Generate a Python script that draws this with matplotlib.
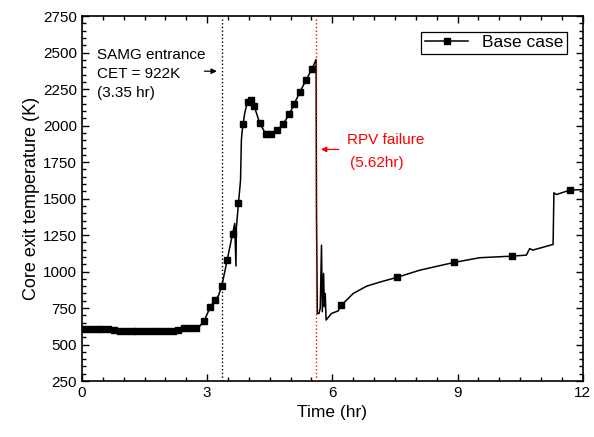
import numpy as np
import matplotlib
matplotlib.use('Agg')
import matplotlib.pyplot as plt
from matplotlib.ticker import MultipleLocator

plt.rcParams['font.family'] = ['Liberation Sans', 'DejaVu Sans']

# core exit temperature, base case
time_hr = [0.0, 0.07, 0.21, 0.35, 0.49, 0.63, 0.77, 0.91, 1.05, 1.19, 1.33,
           1.47, 1.61, 1.75, 1.89, 2.03, 2.17, 2.31, 2.45, 2.59, 2.73, 2.80,
           2.93, 3.07, 3.19, 3.27, 3.35, 3.48, 3.61, 3.66, 3.69, 3.70, 3.75,
           3.80, 3.82, 3.84, 3.86, 3.90, 3.95, 3.99, 4.05, 4.13, 4.26, 4.40,
           4.53, 4.68, 4.82, 4.97, 5.09, 5.22, 5.37, 5.51, 5.61, 5.62, 5.64,
           5.68, 5.71, 5.74, 5.76, 5.79, 5.81, 5.83, 5.85, 5.98, 6.14, 6.21,
           6.50, 6.82, 7.14, 7.54, 8.10, 8.92, 9.53, 10.31, 10.65, 10.73,
           10.80, 11.29, 11.31, 11.37, 11.69, 12.0]
temp_k = [606, 606, 606, 605, 605, 604, 603, 596, 593, 593, 592,
          592, 591, 591, 591, 591, 592, 600, 612, 616, 616, 618,
          663, 755, 805, 835, 900, 1079, 1261, 1330, 1038, 1300, 1467,
          1627, 1900, 1965, 2008, 2085, 2145, 2163, 2175, 2133, 2015, 1946,
          1946, 1969, 2010, 2079, 2151, 2229, 2312, 2387, 2453, 1400, 713,
          713, 750, 1181, 725, 987, 759, 850, 668, 713, 731, 768,
          850, 900, 928, 960, 1010, 1063, 1095, 1106, 1113, 1158,
          1147, 1186, 1540, 1528, 1558, 1562]
marker_times = [0.07, 0.21, 0.35, 0.49, 0.63, 0.77, 0.91, 1.05, 1.19, 1.33,
                1.47, 1.61, 1.75, 1.89, 2.03, 2.17, 2.31, 2.45, 2.59, 2.73,
                2.93, 3.07, 3.19, 3.35, 3.48, 3.61, 3.75, 3.86, 3.99, 4.05,
                4.13, 4.26, 4.40, 4.53, 4.68, 4.82, 4.97, 5.09, 5.22, 5.37,
                5.51, 6.21, 7.54, 8.92, 10.31, 11.69]

samg_time = 3.35
rpv_time = 5.62

mark_idx = list(np.where(np.isin(time_hr, marker_times))[0])

fig = plt.figure(figsize=(5.94, 4.37), dpi=100)
ax = fig.add_axes([0.138, 0.128, 0.843, 0.835])

ax.plot(time_hr, temp_k, color='black', lw=1.1, marker='s', ms=3.8,
        markevery=mark_idx, label='Base case', zorder=3)

ax.axvline(samg_time, color='black', ls=':', lw=1.0, zorder=2)
ax.axvline(rpv_time, color='red', ls=':', lw=1.0, zorder=4)

ax.text(0.36, 2530, 'SAMG entrance\nCET = 922K\n(3.35 hr)', fontsize=11,
        va='top', ha='left', linespacing=1.45)
ax.annotate('', xy=(3.30, 2373), xytext=(2.87, 2373),
            arrowprops=dict(arrowstyle='-|>', color='black', lw=0.9,
                            mutation_scale=8))

ax.text(6.34, 1901, 'RPV failure', fontsize=11, color='red',
        va='center', ha='left')
ax.text(6.42, 1743, '(5.62hr)', fontsize=11, color='red',
        va='center', ha='left')
ax.annotate('', xy=(5.66, 1837), xytext=(6.22, 1837),
            arrowprops=dict(arrowstyle='-|>', color='red', lw=0.9,
                            mutation_scale=8))

ax.set_xlim(0, 12)
ax.set_ylim(250, 2750)
ax.xaxis.set_major_locator(MultipleLocator(3))
ax.xaxis.set_minor_locator(MultipleLocator(0.5))
ax.yaxis.set_major_locator(MultipleLocator(250))
ax.yaxis.set_minor_locator(MultipleLocator(50))
ax.tick_params(which='both', direction='in', top=True, right=True,
               labelsize=11, width=1.0)
ax.tick_params(which='major', length=5)
ax.tick_params(which='minor', length=3)
for s in ax.spines.values():
    s.set_linewidth(1.2)

ax.set_xlabel('Time (hr)', fontsize=12.5)
ax.set_ylabel('Core exit temperature (K)', fontsize=13, labelpad=2)

leg = ax.legend(loc='upper right', fontsize=12.5, fancybox=False,
                edgecolor='black', framealpha=1, handlelength=2.5,
                borderpad=0.2, borderaxespad=0.9)
leg.get_frame().set_linewidth(0.9)

fig.savefig('out.png', dpi=100)
